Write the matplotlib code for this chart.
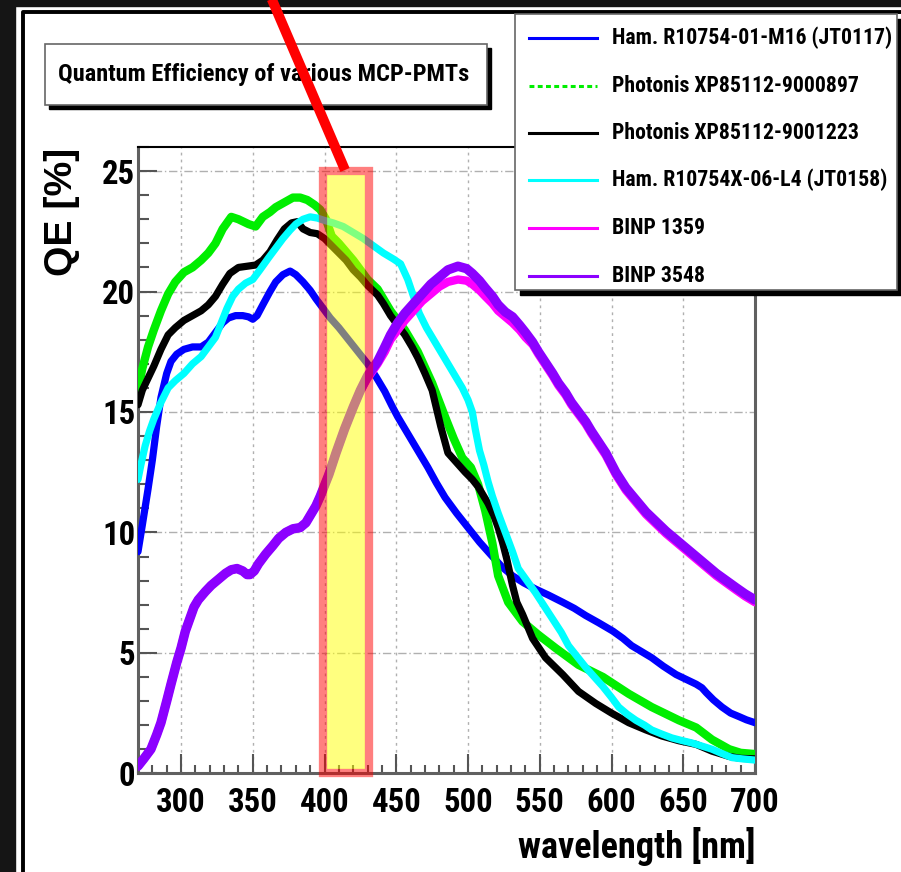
import numpy as np
import matplotlib
matplotlib.use("Agg")
import matplotlib.pyplot as plt
from matplotlib import font_manager
from matplotlib.patches import Rectangle
from matplotlib.lines import Line2D
from matplotlib.ticker import MultipleLocator

# quantum efficiency curves, QE [%] vs wavelength [nm]
wl_r10754_m16 = [270, 273, 277, 280, 283, 286, 290, 293, 297, 302, 308, 314, 319, 324, 329,
                 333, 338, 343, 347, 350, 353, 357, 362, 366, 371, 376, 380, 385, 390, 394,
                 399, 404, 410, 418, 424, 430, 436, 442, 447, 451, 456, 461, 466, 472, 478,
                 484, 492, 500, 508, 517, 524, 531, 539, 547, 556, 566, 574, 582, 591, 601,
                 608, 614, 621, 628, 636, 645, 652, 659, 663, 666, 671, 677, 683, 689, 694, 700]
qe_r10754_m16 = [9.2, 10.3, 11.8, 13.0, 14.4, 15.6, 16.6, 17.1, 17.4, 17.6, 17.7, 17.7, 17.9, 18.3, 18.7,
                 18.9, 19.0, 19.0, 18.95, 18.85, 19.0, 19.45, 20.0, 20.4, 20.7, 20.85, 20.7, 20.4, 20.05, 19.7,
                 19.3, 18.9, 18.5, 17.9, 17.45, 17.0, 16.45, 15.85, 15.25, 14.8, 14.3, 13.8, 13.3, 12.7, 12.05,
                 11.45, 10.8, 10.2, 9.6, 9.0, 8.55, 8.2, 7.9, 7.65, 7.4, 7.1, 6.85, 6.55, 6.25, 5.9,
                 5.6, 5.3, 5.05, 4.8, 4.45, 4.1, 3.9, 3.7, 3.55, 3.35, 3.05, 2.75, 2.5, 2.35, 2.22, 2.1]

wl_xp_897 = [270, 273, 277, 281, 286, 291, 296, 302, 308, 314, 319, 324, 329, 335, 340,
             347, 352, 357, 362, 366, 372, 378, 383, 388, 393, 397, 401, 405, 410, 420,
             430, 437, 446, 456, 465, 475, 484, 490, 496, 502, 507, 512, 517, 521, 528,
             538, 549, 561, 577, 594, 612, 628, 647, 659, 670, 682, 690, 700]
qe_xp_897 = [15.9, 16.8, 17.7, 18.4, 19.2, 19.9, 20.4, 20.8, 21.0, 21.3, 21.6, 22.0, 22.6, 23.1, 23.0,
             22.8, 22.7, 23.1, 23.3, 23.5, 23.7, 23.9, 23.9, 23.8, 23.6, 23.4, 23.0, 22.3, 22.0, 21.3,
             20.5, 20.1, 19.2, 18.4, 17.5, 16.2, 14.8, 13.9, 13.1, 12.7, 12.0, 10.9, 9.55, 8.2, 7.1,
             6.3, 5.75, 5.2, 4.5, 4.0, 3.3, 2.75, 2.2, 1.9, 1.4, 1.0, 0.85, 0.8]

wl_xp_223 = [270, 273, 277, 281, 286, 291, 296, 302, 308, 314, 319, 324, 329, 334, 340,
             346, 352, 357, 362, 367, 372, 377, 381, 385, 390, 395, 400, 405, 410, 415,
             420, 425, 430, 437, 441, 446, 451, 456, 461, 465, 470, 475, 481, 486, 492,
             498, 503, 507, 511, 514, 518, 521, 524, 527, 531, 534, 538, 545, 554, 566,
             577, 589, 600, 612, 624, 635, 647, 659, 670, 682, 690, 700]
qe_xp_223 = [15.3, 15.9, 16.4, 16.9, 17.6, 18.2, 18.5, 18.8, 19.0, 19.2, 19.45, 19.8, 20.3, 20.75, 21.0,
             21.05, 21.1, 21.3, 21.65, 22.15, 22.6, 22.85, 22.9, 22.6, 22.45, 22.4, 22.2, 21.9, 21.6, 21.3,
             20.9, 20.6, 20.25, 19.85, 19.5, 19.0, 18.6, 18.2, 17.7, 17.25, 16.6, 15.9, 14.4, 13.3, 12.9,
             12.5, 12.2, 11.9, 11.5, 11.2, 10.7, 10.2, 9.6, 8.9, 7.8, 7.1, 6.6, 5.6, 4.8, 4.1,
             3.4, 2.9, 2.5, 2.1, 1.8, 1.55, 1.35, 1.2, 0.92, 0.7, 0.62, 0.6]

wl_r10754x_l4 = [270, 272, 275, 278, 281, 286, 291, 296, 302, 308, 314, 319, 324, 328, 332,
                 336, 340, 345, 350, 355, 361, 366, 371, 376, 380, 385, 390, 395, 400, 406,
                 413, 420, 427, 434, 441, 448, 453, 458, 462, 466, 471, 478, 485, 491, 496,
                 500, 503, 505, 508, 511, 514, 517, 521, 526, 531, 535, 541, 547, 553, 559,
                 565, 570, 576, 582, 588, 594, 600, 605, 611, 617, 623, 628, 635, 642, 649,
                 656, 663, 670, 677, 684, 691, 700]
qe_r10754x_l4 = [12.2, 12.8, 13.6, 14.2, 14.7, 15.4, 16.0, 16.3, 16.6, 17.0, 17.3, 17.7, 18.1, 18.7, 19.3,
                 19.8, 20.1, 20.35, 20.5, 20.9, 21.4, 21.8, 22.2, 22.55, 22.8, 23.0, 23.1, 23.05, 22.95, 22.85,
                 22.7, 22.45, 22.2, 21.9, 21.6, 21.35, 21.15, 20.5, 19.8, 19.1, 18.5, 17.8, 17.1, 16.5, 16.0,
                 15.5, 15.0, 14.3, 13.4, 12.8, 12.1, 11.5, 10.8, 10.0, 9.2, 8.5, 8.0, 7.5, 6.95, 6.4,
                 5.85, 5.3, 4.85, 4.4, 4.0, 3.6, 3.15, 2.75, 2.45, 2.2, 2.0, 1.8, 1.63, 1.47, 1.36,
                 1.26, 1.13, 1.0, 0.82, 0.65, 0.6, 0.55]

wl_binp_1359 = [270, 274, 279, 283, 286, 290, 293, 297, 300, 303, 306, 309, 312, 317, 321,
                326, 331, 335, 339, 343, 346, 348, 351, 354, 359, 364, 368, 373, 378, 383,
                387, 390, 394, 397, 400, 403, 408, 414, 420, 425, 430, 437, 442, 446, 456,
                462, 468, 474, 480, 486, 493, 499, 503, 508, 512, 517, 521, 526, 531, 536,
                540, 545, 549, 554, 559, 563, 568, 572, 577, 582, 586, 591, 596, 603, 610,
                617, 624, 631, 638, 645, 652, 659, 666, 673, 680, 687, 693, 700]
qe_binp_1359 = [0.3, 0.6, 1.0, 1.6, 2.1, 3.0, 3.7, 4.6, 5.2, 5.9, 6.4, 6.9, 7.2, 7.55, 7.8,
                8.05, 8.3, 8.45, 8.5, 8.4, 8.25, 8.25, 8.4, 8.7, 9.1, 9.45, 9.75, 10.0, 10.15, 10.2,
                10.4, 10.7, 11.1, 11.5, 11.95, 12.4, 13.3, 14.3, 15.2, 15.9, 16.4, 17.0, 17.5, 18.0, 18.8,
                19.2, 19.6, 19.9, 20.2, 20.4, 20.5, 20.45, 20.3, 20.05, 19.8, 19.5, 19.2, 18.95, 18.7, 18.4,
                18.1, 17.8, 17.4, 16.95, 16.5, 16.1, 15.7, 15.3, 14.9, 14.5, 14.1, 13.65, 13.2, 12.4, 11.75,
                11.25, 10.75, 10.35, 9.95, 9.6, 9.25, 8.9, 8.55, 8.2, 7.9, 7.6, 7.35, 7.1]

wl_binp_3548 = [270, 274, 279, 283, 286, 290, 293, 297, 300, 303, 306, 309, 312, 317, 321,
                326, 331, 335, 339, 343, 346, 348, 351, 354, 359, 364, 368, 373, 378, 383,
                387, 390, 394, 397, 400, 403, 408, 414, 420, 425, 430, 437, 442, 446, 451,
                456, 462, 468, 474, 480, 486, 493, 499, 503, 508, 512, 517, 521, 526, 531,
                536, 540, 545, 549, 554, 559, 563, 568, 572, 577, 582, 586, 591, 596, 603,
                610, 617, 624, 631, 638, 645, 652, 659, 666, 673, 680, 687, 693, 700]
qe_binp_3548 = [0.3, 0.6, 1.0, 1.6, 2.1, 3.0, 3.7, 4.6, 5.2, 5.9, 6.4, 6.9, 7.2, 7.55, 7.8,
                8.05, 8.3, 8.45, 8.5, 8.4, 8.25, 8.25, 8.4, 8.7, 9.1, 9.45, 9.75, 10.0, 10.15, 10.2,
                10.4, 10.7, 11.1, 11.5, 11.95, 12.4, 13.3, 14.3, 15.2, 15.9, 16.5, 17.1, 17.7, 18.2, 18.7,
                19.1, 19.5, 19.9, 20.3, 20.6, 20.9, 21.05, 20.95, 20.75, 20.45, 20.15, 19.8, 19.45, 19.15, 18.95,
                18.6, 18.3, 17.9, 17.5, 17.05, 16.6, 16.2, 15.8, 15.4, 15.0, 14.6, 14.2, 13.75, 13.3, 12.5,
                11.85, 11.35, 10.85, 10.45, 10.05, 9.7, 9.35, 9.0, 8.65, 8.3, 8.0, 7.7, 7.45, 7.2]

labels = ["Ham. R10754-01-M16 (JT0117)", "Photonis XP85112-9000897", "Photonis XP85112-9001223",
          "Ham. R10754X-06-L4 (JT0158)", "BINP 1359", "BINP 3548"]
colors = ["#0000ff", "#00ee00", "#000000", "#00ffff", "#ff00ff", "#8c00ff"]
widths = [5.2, 6.0, 5.2, 5.2, 6.0, 6.8]

x_ticks = [300, 350, 400, 450, 500, 550, 600, 650, 700]
y_ticks = [0, 5, 10, 15, 20, 25]

# highlighted wavelength band
band_lo, band_hi = 399, 431
band_top = 25

W, H = 901, 872
names = {f.name for f in font_manager.fontManager.ttflist}
narrow = "Liberation Sans"
for cand in ["Liberation Sans Narrow", "Arial Narrow", "Nimbus Sans Narrow", "Roboto Condensed"]:
    if cand in names:
        narrow = cand
        break


def fx(x):
    return x / W


def fy(y):
    return 1 - y / H


fig = plt.figure(figsize=(W / 100, H / 100), dpi=100)
fig.patch.set_facecolor("white")
renderer = fig.canvas.get_renderer()


def fit_width(txt, target, vertical=False):
    # scale the font so the text spans the given number of pixels
    bb = txt.get_window_extent(renderer)
    size = bb.height if vertical else bb.width
    txt.set_fontsize(txt.get_fontsize() * target / size)
    return txt.get_fontsize()


# dark border and frame around the canvas
fig.add_artist(Rectangle((0, 0), fx(15), 1, transform=fig.transFigure, color="#151515", zorder=0))
fig.add_artist(Rectangle((0, fy(6)), 1, 1 - fy(6), transform=fig.transFigure, color="#151515", zorder=0))
fig.add_artist(Line2D([fx(23), fx(23), 1], [0, fy(12), fy(12)], transform=fig.transFigure,
                      color="black", lw=2.8, zorder=1))

ax_l, ax_r, ax_t, ax_b = 138, 755, 147, 773.3
ax = fig.add_axes([fx(ax_l), fy(ax_b), (ax_r - ax_l) / W, (ax_b - ax_t) / H])
ax.set_xlim(270, 700)
ax.set_ylim(0, 26)

series = [(wl_r10754_m16, qe_r10754_m16), (wl_xp_897, qe_xp_897), (wl_xp_223, qe_xp_223),
          (wl_r10754x_l4, qe_r10754x_l4), (wl_binp_1359, qe_binp_1359), (wl_binp_3548, qe_binp_3548)]
for (wl, qe), c, lw in zip(series, colors, widths):
    ax.plot(wl, qe, color=c, lw=lw, solid_joinstyle="round", solid_capstyle="round", zorder=3)

ax.set_axisbelow(True)
ax.grid(axis="x", which="major", color="#b0b0b0", lw=1.0, ls=(0, (2, 3)))
ax.grid(axis="y", which="major", color="#b0b0b0", lw=1.0, ls=(0, (6, 2, 1, 2)))

# tick label size from the width of one label
probe = fig.text(0, 0, "300", fontsize=24, fontweight="bold", family=narrow)
tick_size = fit_width(probe, 50)
probe.remove()

ax.set_xticks(x_ticks, labels=[str(t) for t in x_ticks], fontsize=tick_size, fontweight="bold", family=narrow)
ax.set_yticks(y_ticks, labels=[str(t) for t in y_ticks], fontsize=tick_size, fontweight="bold", family=narrow)
ax.xaxis.set_minor_locator(MultipleLocator(10))
ax.yaxis.set_minor_locator(MultipleLocator(1))
ax.tick_params(which="both", direction="in", top=False, right=False, color="#555555", width=1.5)
ax.tick_params(which="major", length=14)
ax.tick_params(axis="x", which="minor", length=6)
ax.tick_params(axis="y", which="minor", length=8)
ax.tick_params(axis="x", pad=10)
ax.tick_params(axis="y", pad=2)
for side in ["left", "bottom", "right"]:
    ax.spines[side].set_color("#606060")
    ax.spines[side].set_linewidth(2.2)
ax.spines["top"].set_color("black")
ax.spines["top"].set_linewidth(1.5)

ylab = fig.text(fx(62), fy(148), "QE [%]", rotation=90, ha="center", va="top",
                fontsize=27, fontweight="bold", family="Liberation Sans")
fit_width(ylab, 128, vertical=True)
xlab = fig.text(fx(755), fy(846), "wavelength [nm]", ha="right", va="center",
                fontsize=26, fontweight="bold", family=narrow)
fit_width(xlab, 238)

# highlighted band: yellow fill inside a translucent red frame
frame_px = 8.3
ppx = (ax_r - ax_l) / (700 - 270)
ppy = (ax_b - ax_t) / 26
dx = frame_px / 2 / ppx
dy = frame_px / 2 / ppy
ax.add_patch(Rectangle((band_lo + dx, dy), band_hi - band_lo - 2 * dx, band_top - 2 * dy,
                       facecolor="yellow", alpha=0.5, lw=0, zorder=5, clip_on=False))
ax.add_patch(Rectangle((band_lo, 0), band_hi - band_lo, band_top, fill=False,
                       edgecolor=(1, 0, 0, 0.5), lw=frame_px * 0.72, zorder=5, clip_on=False))

# pointer line from the top edge down to the band
fig.add_artist(Line2D([fx(270), fx(345)], [fy(-5), fy(170)], transform=fig.transFigure,
                      color="red", lw=7.2, solid_capstyle="butt", zorder=10))


def shadow_box(x0, y0, x1, y1, off):
    fig.add_artist(Rectangle((fx(x0 + off), fy(y1 + off)), (x1 - x0) / W, (y1 - y0) / H,
                             transform=fig.transFigure, color="black", zorder=6))
    fig.add_artist(Rectangle((fx(x0), fy(y1)), (x1 - x0) / W, (y1 - y0) / H,
                             transform=fig.transFigure, facecolor="white", edgecolor="#666666",
                             lw=1.2, zorder=7))


# title box
shadow_box(45, 44, 487, 105, 4)
title = fig.text(fx(58), fy(75), "Quantum Efficiency of various MCP-PMTs", ha="left", va="center",
                 fontsize=18, fontweight="bold", family=narrow, zorder=8)
fit_width(title, 412)

# legend
shadow_box(515, 14, 897, 290, 5)
row_y = [38, 86, 133, 180, 228, 276]
leg_texts = []
for lab, c, yy in zip(labels, colors, row_y):
    ls = (0, (1.6, 1.1)) if lab.endswith("9000897") else "-"
    fig.add_artist(Line2D([fx(529), fx(597)], [fy(yy), fy(yy)], transform=fig.transFigure,
                          color=c, lw=2.2, ls=ls, zorder=8))
    leg_texts.append(fig.text(fx(612), fy(yy), lab, ha="left", va="center", fontsize=17,
                              fontweight="bold", family=narrow, zorder=8))
leg_size = fit_width(leg_texts[0], 280)
for t in leg_texts[1:]:
    t.set_fontsize(leg_size)

fig.savefig("out.png", dpi=100)
